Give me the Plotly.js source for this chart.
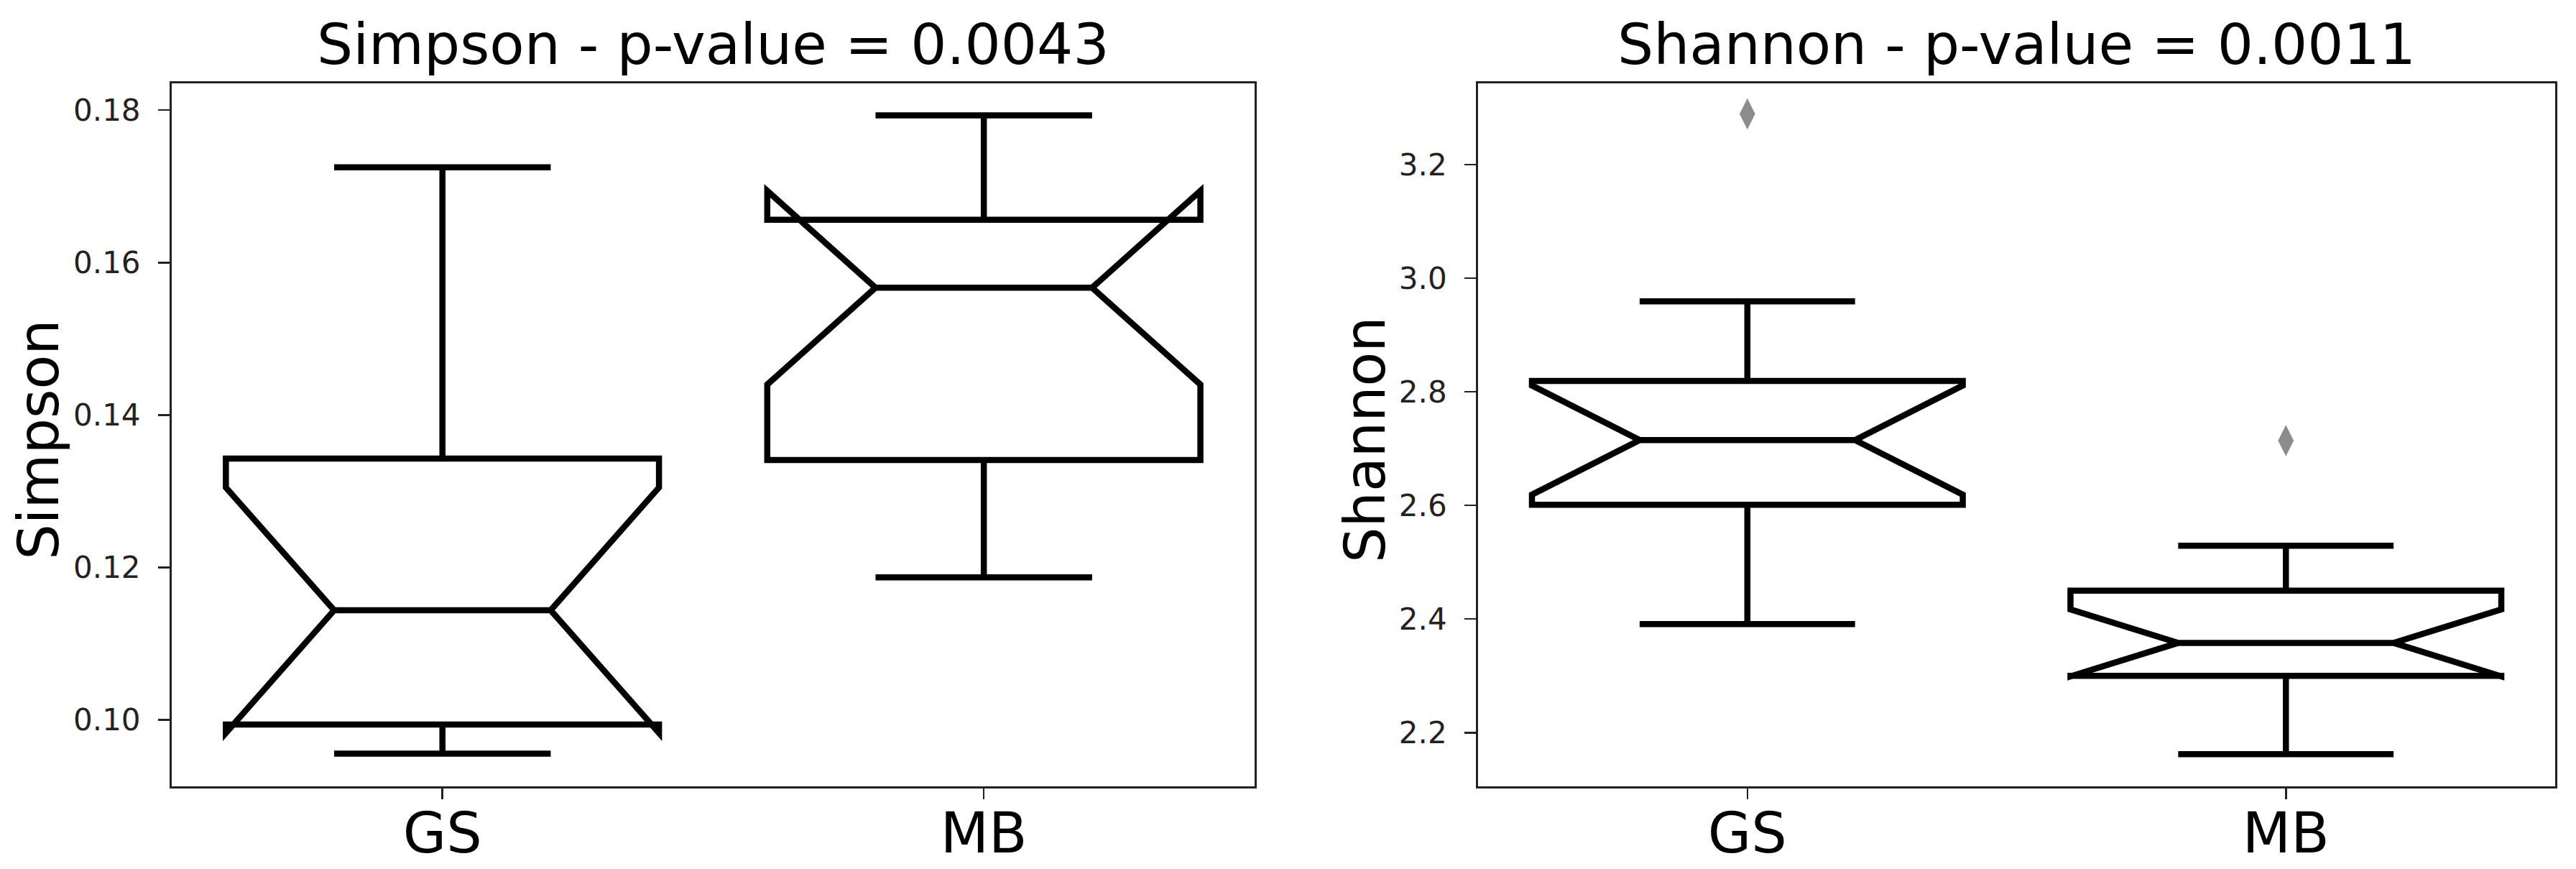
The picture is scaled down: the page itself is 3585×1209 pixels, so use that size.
<!DOCTYPE html>
<html>
<head>
<meta charset="utf-8">
<script src="https://cdn.plot.ly/plotly-3.0.1.min.js"></script>
<style>
  html, body { margin: 0; padding: 0; background: #fff; }
  #grafico { width: 3585px; height: 1209px; }
</style>
</head>
<body>
<div id="grafico"></div>
<script>
// ===== Dados =====
const grupos = ["GS", "MB"];

// Simpson
const simpsonLower = [0.0956, 0.1187];
const simpsonQ1 = [0.0994, 0.1341];
const simpsonMedian = [0.1144, 0.1567];
const simpsonQ3 = [0.1343, 0.1656];
const simpsonUpper = [0.1725, 0.1793];
const simpsonNotch = [0.0161, 0.0127];
const simpsonTicks = [0.10, 0.12, 0.14, 0.16, 0.18];

// Shannon
const shannonLower = [2.391, 2.162];
const shannonQ1 = [2.601, 2.300];
const shannonMedian = [2.715, 2.358];
const shannonQ3 = [2.819, 2.450];
const shannonUpper = [2.959, 2.529];
const shannonNotch = [0.096, 0.059];
const shannonOutX = ["GS", "MB"];
const shannonOutY = [3.289, 2.714];
const shannonTicks = [2.2, 2.4, 2.6, 2.8, 3.0, 3.2];

const titulos = ["Simpson - p-value = 0.0043", "Shannon - p-value = 0.0011"];
const rotulosY = ["Simpson", "Shannon"];

// ===== Estilo =====
const FONTE = "DejaVu Sans, sans-serif";
const COR_EIXO = "#222";

function caixa(lower, q1, med, q3, upper, notch, xa, ya) {
  return {
    type: "box",
    x: grupos,
    lowerfence: lower, q1: q1, median: med, q3: q3, upperfence: upper,
    notchspan: notch,
    notched: true,
    notchwidth: 0.25, // cintura = metade da largura da caixa
    whiskerwidth: 0.5,
    width: 0.8,
    boxpoints: false,
    fillcolor: "rgba(255,255,255,0)",
    line: { color: "#000", width: 8.5 },
    xaxis: xa, yaxis: ya,
    showlegend: false,
    hoverinfo: "skip"
  };
}

function eixoX(dominio, ancora) {
  return {
    domain: dominio, anchor: ancora,
    type: "category", range: [-0.5, 1.5],
    showline: true, mirror: true, linecolor: COR_EIXO, linewidth: 3,
    ticks: "outside", ticklen: 15, tickwidth: 2.5, tickcolor: COR_EIXO,
    tickfont: { family: FONTE, size: 78, color: "#000" },
    ticklabelstandoff: -20,
    showgrid: false, zeroline: false, fixedrange: true
  };
}

function eixoY(faixa, ticks, formato, ancora) {
  return {
    anchor: ancora, range: faixa,
    tickmode: "array", tickvals: ticks, tickformat: formato,
    showline: true, mirror: true, linecolor: COR_EIXO, linewidth: 3,
    ticks: "outside", ticklen: 16, tickwidth: 2.5, tickcolor: COR_EIXO,
    tickfont: { family: FONTE, size: 42, color: "#222" },
    ticklabelstandoff: 16,
    showgrid: false, zeroline: false, fixedrange: true
  };
}

// ===== Traços =====
const data = [
  caixa(simpsonLower, simpsonQ1, simpsonMedian, simpsonQ3, simpsonUpper, simpsonNotch, "x", "y"),
  caixa(shannonLower, shannonQ1, shannonMedian, shannonQ3, shannonUpper, shannonNotch, "x2", "y2"),
  {
    type: "scatter", mode: "markers",
    x: shannonOutX, y: shannonOutY,
    xaxis: "x2", yaxis: "y2",
    marker: { symbol: "diamond-tall", size: 31, color: "#8c8c8c" },
    showlegend: false, hoverinfo: "skip"
  }
];

const domEsq = [0, 0.4543];
const domDir = [0.5481, 1];

const layout = {
  width: 3585, height: 1209,
  margin: { l: 239, r: 29, t: 116, b: 115 },
  paper_bgcolor: "#fff", plot_bgcolor: "#fff",
  font: { family: FONTE, color: "#000" },
  xaxis: eixoX(domEsq, "y"),
  yaxis: eixoY([0.0913, 0.1835], simpsonTicks, ".2f", "x"),
  xaxis2: eixoX(domDir, "y2"),
  yaxis2: eixoY([2.1055, 3.3428], shannonTicks, ".1f", "x2"),
  annotations: [
    { text: titulos[0], xref: "paper", yref: "paper", x: (domEsq[0] + domEsq[1]) / 2, y: 1.0557,
      xanchor: "center", yanchor: "middle", showarrow: false, font: { family: FONTE, size: 79 } },
    { text: titulos[1], xref: "paper", yref: "paper", x: (domDir[0] + domDir[1]) / 2, y: 1.0557,
      xanchor: "center", yanchor: "middle", showarrow: false, font: { family: FONTE, size: 79 } },
    { text: rotulosY[0], xref: "paper", yref: "paper", x: -0.0558, y: 0.493, textangle: -90,
      xanchor: "center", yanchor: "middle", showarrow: false, font: { family: FONTE, size: 78 } },
    { text: rotulosY[1], xref: "paper", yref: "paper", x: 0.5008, y: 0.493, textangle: -90,
      xanchor: "center", yanchor: "middle", showarrow: false, font: { family: FONTE, size: 78 } }
  ]
};

Plotly.newPlot("grafico", data, layout, { displayModeBar: false, staticPlot: true });
</script>
</body>
</html>
